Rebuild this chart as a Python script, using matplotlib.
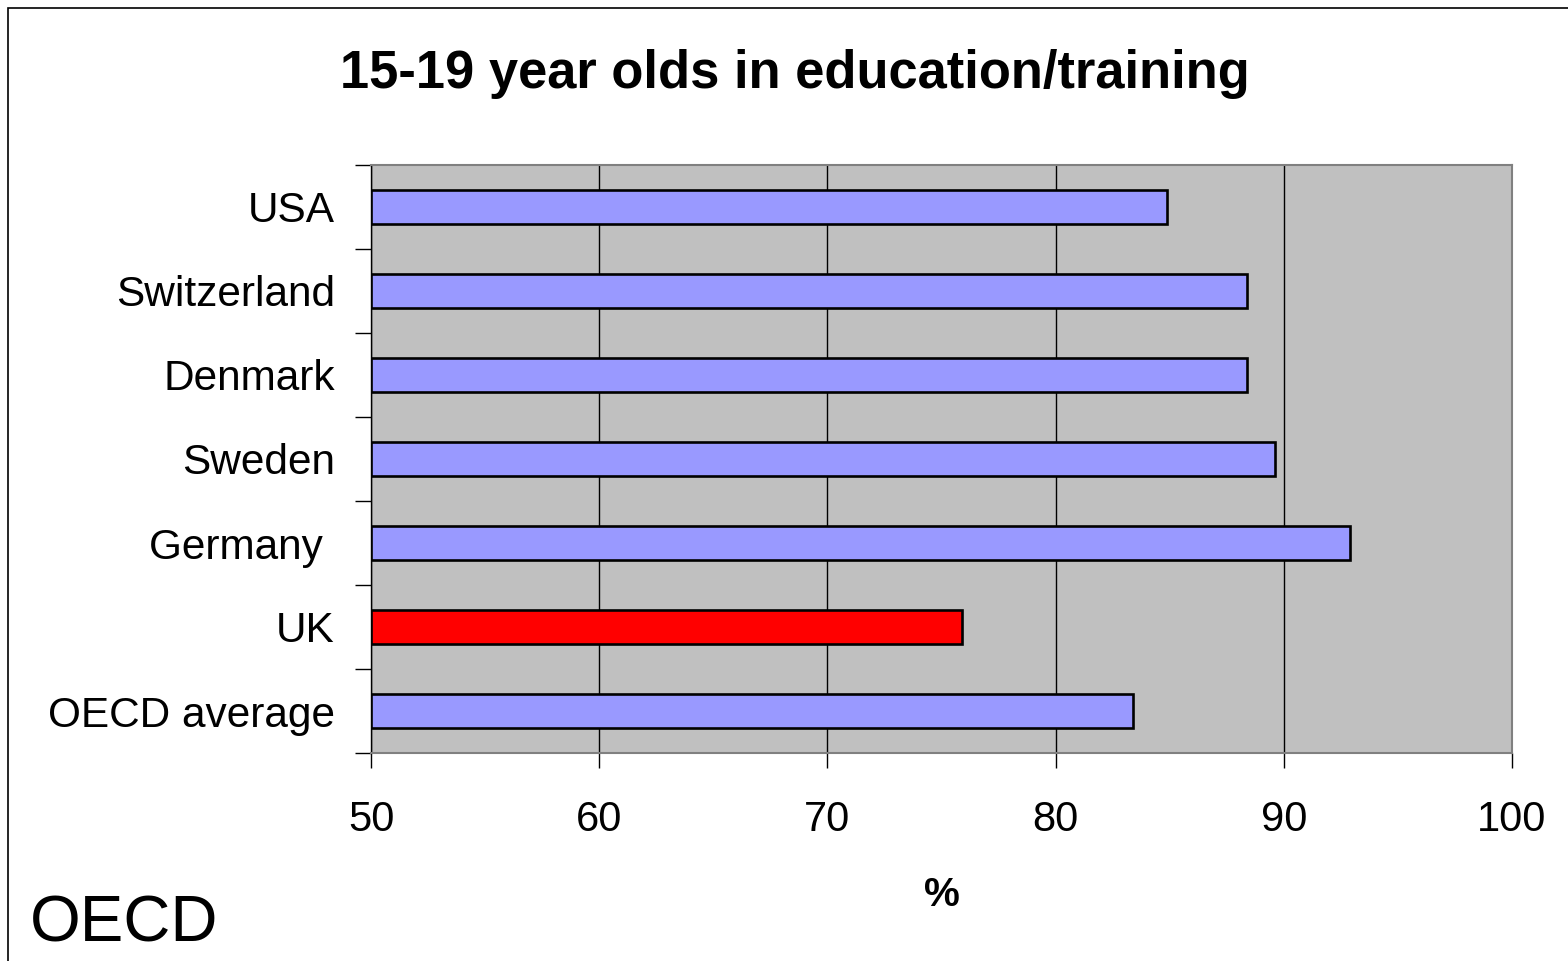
import matplotlib.pyplot as plt
from matplotlib.patches import Rectangle

# 데이터
countries = ["USA", "Switzerland", "Denmark", "Sweden", "Germany ", "UK", "OECD average"]
values = [84.9, 88.4, 88.4, 89.6, 92.9, 75.9, 83.4]
colors = ["#9999FF", "#9999FF", "#9999FF", "#9999FF", "#9999FF", "#FF0000", "#9999FF"]
xticks = [50, 60, 70, 80, 90, 100]

plt.rcParams['font.family'] = ['Liberation Sans', 'DejaVu Sans']

fig = plt.figure(figsize=(15.68, 9.61), dpi=100)
W, H = 1568, 961
ax = fig.add_axes([371 / W, 1 - 753 / H, (1512 - 371) / W, (753 - 165) / H])
ax.set_facecolor("#C0C0C0")

# 위에서부터 USA
ypos = list(range(len(countries)))[::-1]
ax.barh(ypos, [v - 50 for v in values], left=50, height=0.4,
        color=colors, edgecolor="black", linewidth=1.9, zorder=3)

ax.set_xlim(50, 100)
ax.set_ylim(-0.5, len(countries) - 0.5)
ax.set_xticks(xticks)
ax.set_xticklabels([str(t) for t in xticks], fontsize=30)
ax.set_yticks(ypos)
ax.set_yticklabels(countries, fontsize=30.5)
ax.set_yticks([i + 0.5 for i in range(-1, len(countries))], minor=True)

ax.tick_params(axis='y', which='major', length=0, pad=26)
ax.tick_params(axis='y', which='minor', length=11.5, width=1, direction='out')
ax.tick_params(axis='x', which='major', length=11, width=1, direction='out', pad=23)

ax.grid(axis='x', color='black', linewidth=1)
ax.set_axisbelow(True)

for s in ['top', 'right', 'bottom']:
    ax.spines[s].set_color('#808080')
    ax.spines[s].set_linewidth(1.5)
ax.spines['left'].set_color('black')
ax.spines['left'].set_linewidth(1)

ax.set_xlabel("%", fontsize=29, fontweight='bold', labelpad=26)

fig.text(795 / W, 1 - 74 / H, "15-19 year olds in education/training",
         fontsize=37.8, fontweight='bold', ha='center', va='center')
fig.text(30 / W, 1 - 925 / H, "OECD", fontsize=47, ha='left', va='center')

# 바깥 테두리
fig.patches.append(Rectangle((8 / W, -0.1), 1.2, 1.1 - 8 / H, transform=fig.transFigure,
                             fill=False, edgecolor='black', linewidth=1.2))

plt.savefig('out.png', dpi=100)
